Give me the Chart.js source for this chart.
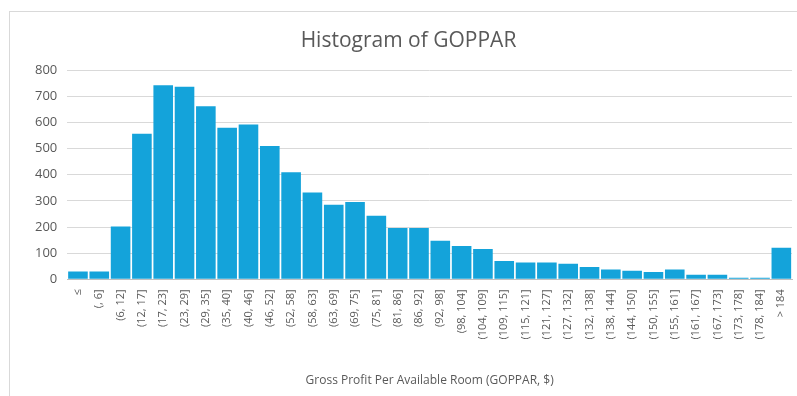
<!DOCTYPE html>
<html>
<head>
<meta charset="utf-8">
<script src="https://cdn.jsdelivr.net/npm/chart.js@4"></script>
<style>
  html, body { margin: 0; padding: 0; background: #fff; overflow: hidden; }
  #wrap { position: relative; width: 797px; height: 396px; }
  #frame { position: absolute; left: 9px; top: 11px; width: 800px; height: 400px;
           border-top: 1px solid #d9d9d9; border-left: 1px solid #d9d9d9; }
  #chart { position: absolute; left: 0; top: 0; }
</style>
</head>
<body>
<div id="wrap">
  <div id="frame"></div>
  <canvas id="chart" width="797" height="396"></canvas>
</div>
<script>
var bins = ['\u2264', '(, 6]', '(6, 12]', '(12, 17]', '(17, 23]', '(23, 29]', '(29, 35]', '(35, 40]',
  '(40, 46]', '(46, 52]', '(52, 58]', '(58, 63]', '(63, 69]', '(69, 75]', '(75, 81]', '(81, 86]',
  '(86, 92]', '(92, 98]', '(98, 104]', '(104, 109]', '(109, 115]', '(115, 121]', '(121, 127]',
  '(127, 132]', '(132, 138]', '(138, 144]', '(144, 150]', '(150, 155]', '(155, 161]', '(161, 167]',
  '(167, 173]', '(173, 178]', '(178, 184]', '> 184'];
var counts = [30, 30, 202, 557, 742, 737, 662, 580, 592, 510, 410, 332, 285, 296, 243, 196,
  196, 148, 127, 116, 70, 64, 64, 60, 47, 38, 33, 28, 38, 17, 17, 6, 6, 121];
var yTicks = [0, 100, 200, 300, 400, 500, 600, 700, 800];

var grey = '#595959';
var ctx = document.getElementById('chart');
var myChart = new Chart(ctx, {
  type: 'bar',
  data: {
    labels: bins,
    datasets: [{
      label: 'GOPPAR',
      data: counts,
      backgroundColor: '#14a3da',
      borderWidth: 0,
      categoryPercentage: 1,
      barPercentage: 0.92
    }]
  },
  options: {
    responsive: false,
    animation: false,
    layout: { padding: { top: 28, right: 5, bottom: 8, left: 25 } },
    plugins: {
      legend: { display: false },
      tooltip: { enabled: false },
      title: {
        display: true,
        text: 'Histogram of GOPPAR',
        color: grey,
        font: { family: 'Open Sans', size: 21, weight: 'normal' },
        padding: { top: 0, bottom: 17 }
      }
    },
    scales: {
      x: {
        grid: { display: false },
        border: { color: '#bfbfbf' },
        ticks: {
          color: grey,
          font: { family: 'Open Sans', size: 11 },
          minRotation: 90,
          maxRotation: 90,
          autoSkip: false,
          padding: 2
        },
        title: {
          display: true,
          text: 'Gross Profit Per Available Room (GOPPAR, $)',
          color: grey,
          font: { family: 'Open Sans', size: 12 },
          padding: { top: 32, bottom: 0 }
        }
      },
      y: {
        min: yTicks[0],
        max: yTicks[yTicks.length - 1],
        afterBuildTicks: function (axis) {
          axis.ticks = yTicks.map(function (v) { return { value: v }; });
        },
        grid: { color: '#d9d9d9', drawTicks: false },
        border: { display: false },
        ticks: {
          color: grey,
          font: { family: 'Open Sans', size: 13 },
          padding: 10
        }
      }
    }
  }
});
</script>
</body>
</html>
